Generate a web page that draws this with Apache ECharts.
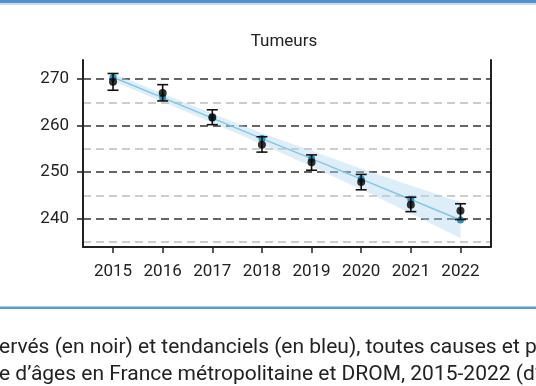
<!DOCTYPE html>
<html>
<head>
<meta charset="utf-8">
<script src="https://cdn.jsdelivr.net/npm/echarts@6/dist/echarts.min.js"></script>
<style>html,body{margin:0;padding:0;background:#fff}#c{width:536px;height:386px}</style>
</head>
<body>
<div id="c"></div>
<script>
// ---- data ----
const years = [2015, 2016, 2017, 2018, 2019, 2020, 2021, 2022];
const observed = [269.4, 267.0, 261.8, 255.9, 252.1, 247.9, 243.0, 241.7];
const observedLow = [267.6, 265.3, 260.2, 254.3, 250.4, 246.2, 241.5, 239.8];
const observedHigh = [271.2, 268.8, 263.4, 257.6, 253.7, 249.5, 244.6, 243.2];
const trend = [270.4, 266.0, 261.6, 257.2, 252.9, 248.5, 244.1, 239.7];
const trendLow = [269.6, 265.1, 260.6, 256.0, 251.2, 246.3, 241.1, 235.8];
const trendHigh = [271.2, 266.9, 262.6, 258.4, 254.6, 250.7, 247.1, 243.6];
const yTicks = [240, 250, 260, 270];
const yMinor = [235, 245, 255, 265];
const title = 'Tumeurs';
const caption1 = 'ervés (en noir) et tendanciels (en bleu), toutes causes et p';
const caption2 = 'e d\u2019âges en France métropolitaine et DROM, 2015-2022 (d\u2019';

const FONT = 'Roboto';
const chart = echarts.init(document.getElementById('c'), null, {renderer: 'canvas'});

const markData = yTicks.map(v => ({yAxis: v, lineStyle: {color: '#333', width: 1.5, type: [8, 5]}}))
  .concat(yMinor.map(v => ({yAxis: v, lineStyle: {color: '#bdbdbd', width: 1.5, type: [8, 5]}})));

chart.setOption({
  animation: false,
  grid: {left: 83, right: 45.5, top: 60, bottom: 139, containLabel: false},
  xAxis: {
    type: 'value', min: 2014.395, max: 2022.605,
    axisLine: {show: true, lineStyle: {color: '#222', width: 2}},
    axisTick: {show: true, length: 6, lineStyle: {color: '#222', width: 1.5}, customValues: years},
    axisLabel: {customValues: years, formatter: v => String(v), fontFamily: FONT, fontSize: 17, color: '#222', margin: 16},
    splitLine: {show: false}
  },
  yAxis: [{
    type: 'value', min: 233.9, max: 274.1, position: 'left',
    axisLine: {show: true, lineStyle: {color: '#222', width: 2}},
    axisTick: {show: true, length: 6, lineStyle: {color: '#222', width: 1.5}, customValues: yTicks},
    axisLabel: {customValues: yTicks, fontFamily: FONT, fontSize: 17, color: '#222', margin: 14},
    splitLine: {show: false}
  }, {
    type: 'value', min: 233.9, max: 274.1, position: 'right',
    axisLine: {show: true, lineStyle: {color: '#222', width: 2}},
    axisTick: {show: false}, axisLabel: {show: false}, splitLine: {show: false}
  }],
  graphic: [
    {type: 'rect', shape: {x: 0, y: 0, width: 536, height: 3}, style: {fill: '#5592cc'}},
    {type: 'rect', shape: {x: 0, y: 3, width: 536, height: 2}, style: {fill: '#c4def2'}},
    {type: 'rect', shape: {x: 0, y: 306.5, width: 536, height: 2.5}, style: {fill: '#5b9bd5'}},
    {type: 'text', x: 284, y: 42, style: {text: title, fontFamily: FONT, fontSize: 17, fill: '#222', textAlign: 'center', textVerticalAlign: 'middle'}},
    {type: 'text', x: -1, y: 348, style: {text: caption1, fontFamily: FONT, fontSize: 21, fill: '#222', textAlign: 'left', textVerticalAlign: 'middle'}},
    {type: 'text', x: -1, y: 375, style: {text: caption2, fontFamily: FONT, fontSize: 21, fill: '#222', textAlign: 'left', textVerticalAlign: 'middle'}}
  ],
  series: [
    {
      type: 'custom', name: 'band', z: 1,
      data: years.map((y, i) => [y, trendLow[i], trendHigh[i]]),
      renderItem: function (params, api) {
        if (params.dataIndex !== 0) return null;
        const pts = [];
        for (let i = 0; i < years.length; i++) pts.push(api.coord([years[i], trendHigh[i]]));
        for (let i = years.length - 1; i >= 0; i--) pts.push(api.coord([years[i], trendLow[i]]));
        return {type: 'polygon', shape: {points: pts}, style: {fill: 'rgba(173,214,238,0.42)'}};
      },
      markLine: {silent: true, symbol: 'none', label: {show: false}, data: markData, z: 0}
    },
    {
      type: 'line', name: 'trend', z: 3,
      data: years.map((y, i) => [y, trend[i]]),
      showSymbol: true, symbol: 'circle', symbolSize: 7,
      itemStyle: {color: '#2a93bb'},
      lineStyle: {color: '#86c6e0', width: 1.5}
    },
    {
      type: 'custom', name: 'errors', z: 4,
      data: years.map((y, i) => [y, observedLow[i], observedHigh[i]]),
      renderItem: function (params, api) {
        const lo = api.coord([api.value(0), api.value(1)]);
        const hi = api.coord([api.value(0), api.value(2)]);
        const w = 5.5;
        const st = {stroke: '#111', lineWidth: 1.6};
        return {type: 'group', children: [
          {type: 'line', shape: {x1: lo[0], y1: lo[1], x2: hi[0], y2: hi[1]}, style: st},
          {type: 'line', shape: {x1: lo[0] - w, y1: lo[1], x2: lo[0] + w, y2: lo[1]}, style: st},
          {type: 'line', shape: {x1: hi[0] - w, y1: hi[1], x2: hi[0] + w, y2: hi[1]}, style: st}
        ]};
      }
    },
    {
      type: 'scatter', name: 'observed', z: 5,
      data: years.map((y, i) => [y, observed[i]]),
      symbol: 'circle', symbolSize: 8, itemStyle: {color: '#000'}
    }
  ]
});
</script>
</body>
</html>
